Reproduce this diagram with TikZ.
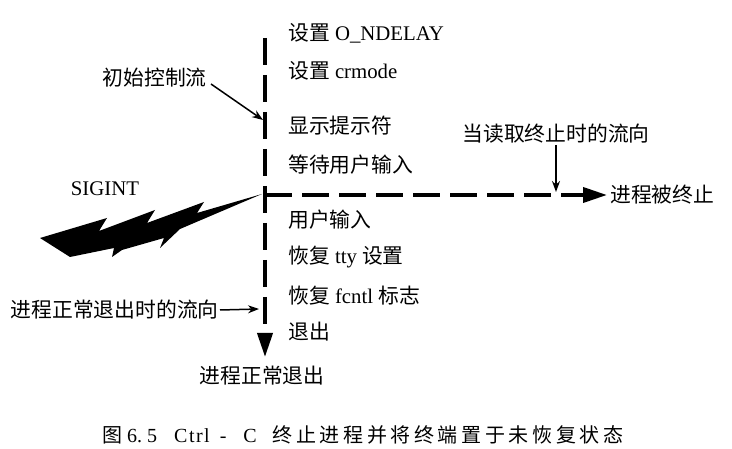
\documentclass[tikz,border=0pt]{standalone}
\usepackage{fontspec}
\setmainfont{Liberation Serif}
\newfontfamily\cjk{Noto Sans CJK SC}
\usetikzlibrary{arrows.meta}
\makeatletter
\newcommand\spreadtext[2]{\def\sp@gap{#1}\@tfor\sp@c:=#2\do{\sp@c\hspace{\sp@gap}}\unskip}
\makeatother

\begin{document}
\begin{tikzpicture}[x=1pt, y=-1pt,
    flow/.style = {line width=3.8pt, dash pattern=on 27pt off 10pt, -{Triangle[length=24pt,width=15pt]}},
    ptr/.style = {line width=1.5pt, -{Stealth[length=11pt,width=8pt]}},
    lbl/.style = {font=\fontsize{20.8}{24}\selectfont, inner sep=1pt}]

            \useasboundingbox (0,0) rectangle (732,449);

            % steps along the control flow
            \node [lbl, anchor=west] (ndelay)  at (287,33)  {{\cjk 设置} O\_NDELAY};
            \node [lbl, anchor=west] (crmode)  at (287,71)  {{\cjk 设置} crmode};
            \node [lbl, anchor=west] (prompt)  at (287,126) {\cjk 显示提示符};
            \node [lbl, anchor=west] (wait)    at (287,165) {\cjk 等待用户输入};
            \node [lbl, anchor=west] (input)   at (287,220) {\cjk 用户输入};
            \node [lbl, anchor=west] (tty)     at (287,257) {{\cjk 恢复} tty {\cjk 设置}};
            \node [lbl, anchor=west] (fcntl)   at (287,296) {{\cjk 恢复} fcntl {\cjk 标志}};
            \node [lbl, anchor=west] (quit)    at (287,332) {\cjk 退出};
            \node [lbl] (normal) at (262,376) {\cjk 进程正常退出};
            \node [lbl, anchor=west, inner sep=3pt] (killed) at (607,195) {\cjk 进程被终止};

            % main flow and interrupted flow
            \coordinate (top) at (265,38);
            \coordinate (bottom) at (265,357);
            \coordinate (sig) at (265,195);
            \draw [flow] (top) -- (bottom);
            \draw [flow] (sig) -- (killed.west);

            % pointers
            \node [lbl, anchor=east] (init) at (208,78) {\cjk 初始控制流};
            \coordinate (initpt) at (263,120);
            \draw [ptr] ([xshift=3pt,yshift=-6pt]init.east) -- (initpt);

            \node [lbl] (readlbl) at (556,134) {\cjk 当读取终止时的流向};
            \coordinate (readpt) at (556,192);
            \draw [ptr] (readlbl.south) -- (readpt);

            \node [lbl, anchor=east] (exitlbl) at (220,310) {\cjk 进程正常退出时的流向};
            \coordinate (exitpt) at (259,309);
            \draw [ptr] (exitlbl.east) -- (exitpt);

            % the signal
            \node [lbl] (sigint) at (105,189) {SIGINT};
            \fill [black] (40,238) -- (107,218) -- (99,231) -- (155,210) -- (147,223) -- (204,202)
                -- (197,213) -- (262,194) -- (180,229) -- (160,248) -- (164,238) -- (122,250)
                -- (112,257) -- (114,248) -- (70,257) -- cycle;

            \node [font=\fontsize{20}{24}\selectfont, anchor=west, inner sep=0pt] (caption) at (102,435)
                {{\cjk 图}\hspace{5pt}6.\hspace{5pt}5\hspace{17pt}\spreadtext{1.5pt}{Ctrl}\hspace{10pt}-\hspace{17pt}C\hspace{16pt}{\cjk\spreadtext{3.6pt}{终止进程并将终端置于未恢复状态}}};
\end{tikzpicture}
\end{document}
